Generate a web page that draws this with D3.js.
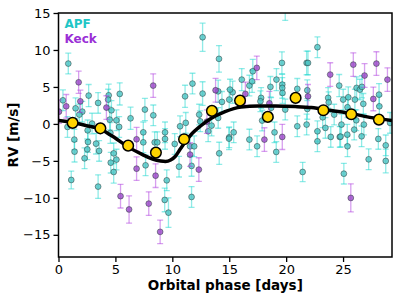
<!DOCTYPE html>
<html>
<head>
<meta charset="utf-8">
<script src="https://cdn.jsdelivr.net/npm/d3@7"></script>
<style>
  body { margin: 0; background: #fff; }
  text { font-family: "DejaVu Sans", sans-serif; }
</style>
</head>
<body>
<script>
// APF velocities: [phase (days), RV (m/s), error (m/s)]
var apfData = [
  [0.86, 8.16, 1.4], [0.39, 3.19, 1.4], [2.65, 3.83, 1.5], [3.48, 2.84, 1.4], [4.41, 3.87, 1.5],
  [4.36, 3.29, 1.4], [5.38, 4.06, 1.5], [1.50, 2.11, 1.4], [2.09, 1.66, 1.4], [4.65, 1.84, 1.3],
  [4.50, 0.58, 1.4], [5.09, 0.49, 1.4], [5.33, -0.41, 1.4], [6.33, 0.76, 1.5], [0.79, -0.41, 1.4],
  [1.39, -2.12, 1.4], [1.83, 1.26, 1.4], [2.56, -0.87, 1.4], [2.95, 0.04, 1.4], [3.30, -2.67, 1.4],
  [4.56, -1.22, 1.4], [7.45, -1.14, 1.4], [7.45, -2.49, 1.4], [7.59, 1.94, 1.5], [8.33, 1.16, 1.4],
  [8.45, -2.49, 1.4], [8.68, -2.49, 1.4], [9.36, -1.14, 1.4], [9.36, -2.03, 1.4], [10.21, -2.71, 1.4],
  [10.68, -0.32, 1.4], [11.12, 3.73, 1.5], [11.18, 0.14, 1.4], [11.77, 5.45, 1.4], [11.56, -3.03, 1.4],
  [11.92, -3.03, 1.4], [12.36, 1.26, 1.4], [12.66, 11.72, 1.9], [14.10, 8.80, 1.8], [12.66, 4.10, 1.6],
  [14.03, 4.41, 1.5], [14.36, 2.98, 1.4], [12.45, 0.35, 1.4], [14.03, 0.81, 1.4], [19.92, 15.5, 1.5],
  [22.75, 10.37, 1.4], [17.07, 7.12, 1.6], [16.10, 5.99, 1.5], [15.00, 3.29, 1.4], [15.30, 4.28, 1.5],
  [15.07, 4.64, 1.4], [16.77, 5.18, 1.4], [17.01, 5.76, 1.5], [18.62, 5.01, 1.4], [19.15, 5.99, 1.5],
  [19.63, 8.25, 1.5], [19.66, 5.32, 1.4], [19.66, 4.87, 1.4], [19.68, 4.19, 1.4], [20.98, 4.74, 1.4],
  [21.80, 8.25, 1.6], [21.92, 8.25, 1.6], [21.86, 4.55, 1.4], [24.66, 5.18, 1.5], [26.19, 4.87, 1.5],
  [26.48, 4.64, 1.4], [26.66, 5.01, 1.5], [28.16, 3.96, 1.5], [25.46, 3.60, 1.4], [25.01, 3.29, 1.4],
  [26.78, 2.71, 1.4], [26.04, 3.29, 1.4], [23.69, 3.52, 1.4], [23.74, 2.92, 1.4], [28.19, 2.38, 1.4],
  [29.13, 0.14, 1.4], [17.80, 3.52, 1.4], [17.74, 3.06, 1.4], [18.68, 2.17, 1.4], [19.92, 1.94, 1.4],
  [21.86, 2.03, 1.4], [17.89, 0.45, 1.4], [17.45, -3.03, 1.4], [18.98, -1.14, 1.4], [20.98, -0.32, 1.4],
  [21.80, -0.09, 1.4], [22.75, -1.00, 1.4], [22.75, -2.35, 1.4], [23.45, -0.54, 1.4], [23.92, -1.76, 1.4],
  [24.22, 1.26, 1.4], [24.86, -0.09, 1.4], [24.71, -1.76, 1.4], [25.37, -1.45, 1.4], [25.39, -3.03, 1.4],
  [25.98, -0.77, 1.4], [26.63, -1.68, 1.4], [28.10, -2.03, 1.4], [28.75, -2.90, 1.4], [25.39, 2.25, 1.4],
  [13.45, -0.23, 1.4], [15.39, -1.14, 1.4], [15.00, -1.81, 1.4], [16.77, -2.12, 1.4], [13.15, -1.00, 1.4],
  [1.41, -3.75, 1.4], [1.12, -7.58, 1.2], [2.29, -4.65, 1.4], [2.53, -3.44, 1.4], [2.59, -2.44, 1.4],
  [3.57, -3.65, 1.4], [3.48, -8.48, 1.6], [4.85, -3.98, 1.4], [5.09, -4.83, 1.4], [4.59, -5.24, 1.4],
  [4.85, -6.50, 1.5], [7.65, -5.60, 1.4], [9.51, -7.63, 1.4], [10.59, -5.78, 1.4], [11.69, -5.68, 1.4],
  [14.12, -3.98, 1.5], [9.33, -10.28, 1.6], [9.66, -12.00, 2.0], [11.69, -9.88, 1.4], [14.98, -1.99, 1.5],
  [19.13, -3.79, 1.4], [21.45, -6.50, 1.3], [24.78, -1.72, 1.4], [27.25, -4.79, 1.4], [25.07, -6.73, 1.4],
  [28.75, -5.01, 1.6], [26.16, 0.49, 1.4], [26.83, -0.09, 1.4], [23.21, 0.89, 1.4]
];

// Keck velocities: [phase (days), RV (m/s), error (m/s)]
var keckData = [
  [1.77, 5.63, 1.5], [0.68, 2.38, 1.6], [1.92, 3.06, 1.5], [4.21, 2.21, 1.6], [0.04, 1.66, 1.6],
  [6.86, -2.08, 1.6], [8.32, 5.18, 1.6], [13.80, 4.55, 1.6], [13.04, 0.31, 1.6], [17.42, 7.58, 1.6],
  [16.42, 4.06, 1.6], [21.92, 3.73, 1.6], [23.87, 6.67, 1.6], [25.90, 8.02, 1.6], [26.89, 6.54, 1.6],
  [27.93, 8.16, 1.6], [28.90, 5.99, 1.6], [27.66, 3.38, 1.6], [18.09, -2.12, 1.6], [19.66, -1.76, 1.7],
  [18.53, 2.79, 1.6], [5.45, -9.77, 1.6], [6.20, -11.57, 1.85], [6.86, -6.05, 1.6], [7.93, -10.78, 1.6],
  [8.53, -7.00, 1.6], [8.93, -14.60, 1.6], [11.56, -4.15, 1.6], [12.33, -6.18, 1.6], [25.68, -10.01, 1.9]
];

// phase-binned means
var binPhase = [1.24, 3.68, 6.12, 8.56, 11.03, 13.48, 15.95, 18.39, 20.83, 23.27, 25.72, 28.15];
var binRV = [0.14, -0.60, -2.94, -3.88, -2.08, 1.76, 3.15, 0.95, 3.52, 1.84, 1.30, 0.58];

// best-fit orbit
var modelPhase = [0, 1.21, 2.44, 3.68, 4.21, 4.92, 6.15, 7.39, 8.27, 8.97, 9.40, 9.85, 10.25, 10.74,
  11.18, 11.62, 12.51, 13.39, 14.63, 16.04, 17.54, 19.04, 20.81, 22.21, 23.98, 25.75, 27.51, 29.3];
var modelRV = [0.45, 0.18, -0.23, -0.70, -1.15, -1.85, -3.14, -4.15, -4.76, -5.02, -5.08, -4.88, -4.40, -3.30,
  -2.35, -1.50, -0.25, 0.72, 1.66, 2.27, 2.41, 2.41, 2.34, 2.21, 1.80, 1.39, 0.85, 0.45];

var xTicks = [0, 5, 10, 15, 20, 25];
var yTicks = [-15, -10, -5, 0, 5, 10, 15];

var W = 399, H = 299;
var margin = {left: 58.5, right: 7, top: 13, bottom: 42};
var width = W - margin.left - margin.right,
    height = H - margin.top - margin.bottom;

var svg = d3.select("body").append("svg")
    .attr("width", W)
    .attr("height", H);

var g = svg.append("g")
    .attr("transform", "translate(" + margin.left + "," + margin.top + ")");

var xScale = d3.scaleLinear().domain([0, 29.3]).range([0, width]);
var yScale = d3.scaleLinear().domain([-18, 15]).range([height, 0]);

g.append("clipPath").attr("id", "plotclip")
  .append("rect").attr("width", width).attr("height", height);

var plot = g.append("g").attr("clip-path", "url(#plotclip)");

// error bars + markers for one instrument
function drawSeries(data, barColor, fill) {
    var s = plot.append("g");
    var bars = s.selectAll(".eb").data(data).enter().append("g")
        .attr("stroke", barColor)
        .attr("stroke-opacity", 0.5)
        .attr("stroke-width", 1.3);
    bars.append("line")
        .attr("x1", function(d) { return xScale(d[0]); })
        .attr("x2", function(d) { return xScale(d[0]); })
        .attr("y1", function(d) { return yScale(d[1] - d[2]); })
        .attr("y2", function(d) { return yScale(d[1] + d[2]); });
    [-1, 1].forEach(function(sign) {
        bars.append("line")
            .attr("x1", function(d) { return xScale(d[0]) - 3; })
            .attr("x2", function(d) { return xScale(d[0]) + 3; })
            .attr("y1", function(d) { return yScale(d[1] + sign * d[2]); })
            .attr("y2", function(d) { return yScale(d[1] + sign * d[2]); });
    });
    s.selectAll(".dot").data(data).enter().append("circle")
        .attr("cx", function(d) { return xScale(d[0]); })
        .attr("cy", function(d) { return yScale(d[1]); })
        .attr("r", 2.9)
        .attr("fill", fill)
        .attr("fill-opacity", 0.8)
        .attr("stroke", "#2b3b3b")
        .attr("stroke-opacity", 0.65)
        .attr("stroke-width", 0.8);
}

drawSeries(apfData, "#22d8d0", "#4cc4c4");
drawSeries(keckData, "#b040e0", "#9a48c8");

// model curve
var line = d3.line()
    .x(function(d, i) { return xScale(modelPhase[i]); })
    .y(function(d) { return yScale(d); })
    .curve(d3.curveMonotoneX);

plot.append("path")
    .datum(modelRV)
    .attr("d", line)
    .attr("fill", "none")
    .attr("stroke", "black")
    .attr("stroke-width", 3.5);

// binned points
plot.selectAll(".bin").data(binPhase).enter().append("circle")
    .attr("cx", function(d) { return xScale(d); })
    .attr("cy", function(d, i) { return yScale(binRV[i]); })
    .attr("r", 5.3)
    .attr("fill", "#ffd400")
    .attr("stroke", "black")
    .attr("stroke-width", 1.5);

// axes
var xAxis = d3.axisBottom(xScale).tickValues(xTicks).tickSize(5).tickPadding(3)
    .tickFormat(d3.format("d"));
var yAxis = d3.axisLeft(yScale).tickValues(yTicks).tickSize(5).tickPadding(3)
    .tickFormat(d3.format("d"));

var gX = g.append("g")
    .attr("transform", "translate(0," + height + ")")
    .call(xAxis);
var gY = g.append("g").call(yAxis);

[gX, gY].forEach(function(ax) {
    ax.select(".domain").remove();
    ax.selectAll(".tick line").attr("stroke", "black").attr("stroke-width", 1.3);
    ax.selectAll(".tick text")
        .attr("fill", "black")
        .style("font-size", "13px")
        .style("font-family", "'DejaVu Sans', sans-serif");
});

// frame
g.append("rect")
    .attr("width", width)
    .attr("height", height)
    .attr("fill", "none")
    .attr("stroke", "black")
    .attr("stroke-width", 1.5);

// labels
svg.append("text")
    .attr("x", margin.left + width / 2)
    .attr("y", 290)
    .attr("text-anchor", "middle")
    .style("font-size", "13.5px")
    .style("font-weight", "bold")
    .text("Orbital phase [days]");

svg.append("text")
    .attr("transform", "translate(18," + (margin.top + height / 2) + ") rotate(-90)")
    .attr("text-anchor", "middle")
    .style("font-size", "13.5px")
    .style("font-weight", "bold")
    .text("RV [m/s]");

// legend
g.append("text")
    .attr("x", 6)
    .attr("y", 15)
    .attr("fill", "#1fc6c6")
    .style("font-size", "12px")
    .style("font-weight", "bold")
    .text("APF");
g.append("text")
    .attr("x", 6)
    .attr("y", 30)
    .attr("fill", "#9a2fd6")
    .style("font-size", "12px")
    .style("font-weight", "bold")
    .text("Keck");
</script>
</body>
</html>
